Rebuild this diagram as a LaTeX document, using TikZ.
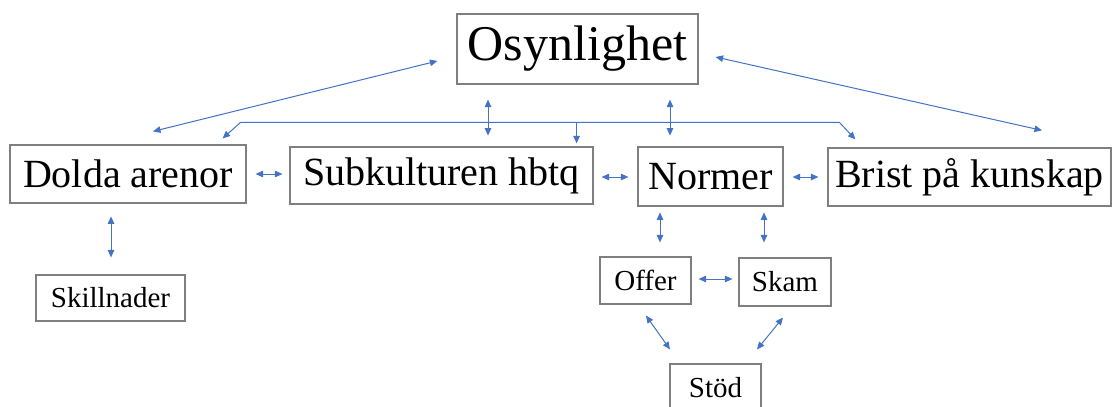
\documentclass[tikz,border=0pt]{standalone}
\usepackage{fontspec}
\setmainfont{Liberation Serif}
\usetikzlibrary{arrows.meta,calc}
\definecolor{arrblue}{HTML}{4472C4}
\definecolor{boxgray}{HTML}{7F7F7F}
\tikzset{
  box/.style={draw=boxgray, line width=1.2pt, inner sep=0pt, align=center, text=black},
  bigbox/.style={box, font=\fontsize{50}{56}\selectfont},
  midbox/.style={box, font=\fontsize{40}{46}\selectfont},
  smallbox/.style={box, font=\fontsize{29}{34}\selectfont},
  arr/.style={draw=arrblue, line width=1pt, {Triangle[length=7.5pt,width=6.5pt]}-{Triangle[length=7.5pt,width=6.5pt]}},
  arrone/.style={draw=arrblue, line width=1pt, -{Triangle[length=7.5pt,width=6.5pt]}}
}
\begin{document}
\begin{tikzpicture}[x=1pt,y=-1pt]
\useasboundingbox[fill=white] (0,0) rectangle (1112,407);
\node[bigbox, minimum width=241pt, minimum height=70pt] (osy) at (577.5,49) {Osynlighet};
\node[midbox, minimum width=236pt, minimum height=58pt] (dolda) at (128,174) {Dolda arenor};
\node[midbox, minimum width=303pt, minimum height=57pt] (subk) at (441.5,175.5) {Subkulturen hbtq};
\node[midbox, minimum width=145pt, minimum height=59pt] (normer) at (710.5,176.5) {Normer};
\node[midbox, minimum width=283pt, minimum height=58pt] (brist) at (969.5,177) {Brist på kunskap};
\node[smallbox, minimum width=149pt, minimum height=46pt] (skill) at (110.5,298) {Skillnader};
\node[smallbox, minimum width=91pt, minimum height=47pt] (offer) at (645.5,280.5) {Offer};
\node[smallbox, minimum width=92pt, minimum height=48pt] (skam) at (785,282) {Skam};
\node[smallbox, minimum width=91pt, minimum height=47pt] (stod) at (715.5,387.5) {Stöd};

% diagonals from Osynlighet
\draw[arr] ($(osy.west)+(-19,12)$) -- ($(dolda.north)+(25,-13)$);
\draw[arr] ($(osy.east)+(17,8)$) -- ($(brist.north)+(72.5,-17)$);
% vertical double arrows under Osynlighet
\draw[arr] ($(osy.south)+(-89.5,15)$) -- ($(osy.south)+(-89.5,51)$);
\draw[arr] ($(osy.south)+(92.5,15)$) -- ($(osy.south)+(92.5,51)$);
% bracket
\draw[arr] ($(dolda.north east)+(-24,-6)$) -- ++(18,-16) -- ($(brist.north west)+(12,-25)$) -- ($(brist.north west)+(28,-8)$);
\draw[arrone] ($(subk.north east)+(-17,-24)$) -- ($(subk.north east)+(-17,-3)$);
% horizontal arrows in middle row
\draw[arr] ($(dolda.east)+(9,0)$) -- ($(subk.west)+(-7,-1.5)$);
\draw[arr] ($(subk.east)+(8,1.5)$) -- ($(normer.west)+(-9,0.5)$);
\draw[arr] ($(normer.east)+(9,0.5)$) -- ($(brist.west)+(-9,0)$);
% Dolda - Skillnader
\draw[arr] ($(skill.north)+(0.5,-58)$) -- ($(skill.north)+(0.5,-17)$);
% Normer - Offer / Skam
\draw[arr] ($(offer.north)+(14.5,-44)$) -- ($(offer.north)+(14.5,-14)$);
\draw[arr] ($(skam.north)+(-21,-45)$) -- ($(skam.north)+(-21,-15)$);
% Offer - Skam
\draw[arr] ($(offer.east)+(7,-1.5)$) -- ($(skam.west)+(-6,-3)$);
% to Stöd
\draw[arr] ($(offer.south)+(0.5,11)$) -- ($(stod.north)+(-45.5,-14)$);
\draw[arr] ($(skam.south)+(-2,11)$) -- ($(stod.north)+(41.5,-14)$);
\end{tikzpicture}
\end{document}
